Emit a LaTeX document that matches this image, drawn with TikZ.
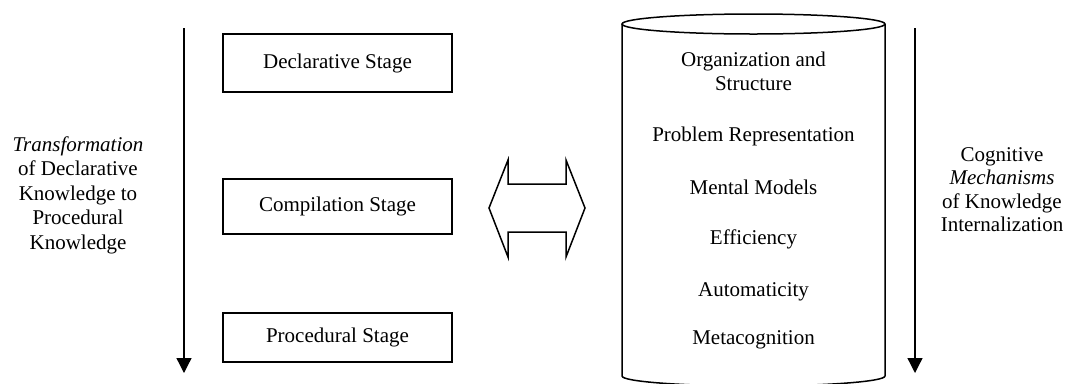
\documentclass[tikz,border=0pt]{standalone}
\usepackage{fontspec}
\setmainfont{Liberation Serif}
\usetikzlibrary{arrows.meta}
\begin{document}
\begin{tikzpicture}[x=1bp,y=-1bp,
  every node/.style={font=\fontsize{21bp}{24.5bp}\selectfont, inner sep=0pt},
  stagebox/.style={draw, line width=1.5bp, minimum width=229bp},
  flow/.style={line width=1.3bp, -{Triangle[length=15bp,width=15bp]}},
  shape line/.style={line width=1.5bp, line join=miter}]
\useasboundingbox (0,0) rectangle (1068,383);
\begin{scope}
\clip (0,0) rectangle (1068,383);
% left arrow
\coordinate (la1) at (184,28);
\coordinate (la2) at (184,373);
\draw[flow] (la1) -- (la2);
\node[align=center] (ltxt) at (78,195) {\textit{Transformation}\\of Declarative\\Knowledge to\\Procedural\\Knowledge};
% stage boxes
\node[stagebox, minimum height=58bp] (decl) at (337.5,63) {Declarative Stage};
\node[stagebox, minimum height=55bp] (comp) at (337.5,206.5) {Compilation Stage};
\node[stagebox, minimum height=49bp] (proc) at (337.5,337.5) {Procedural Stage};
% double arrow
\coordinate (dl) at (489,208);
\coordinate (dr) at (585,208);
\draw[shape line] (dl) -- (508,160) -- (508,184) -- (566,184) -- (566,160) -- (dr)
  -- (566,257) -- (566,232) -- (508,232) -- (508,257) -- cycle;
% cylinder
\coordinate (ctl) at (622,24);
\coordinate (ctr) at (885,24);
\coordinate (cbl) at (622,376);
\coordinate (cbr) at (885,376);
\draw[shape line] (753.5,24) ellipse [x radius=131.5, y radius=10];
\draw[shape line] (ctl) -- (cbl) arc[start angle=180, end angle=360, x radius=131.5, y radius=-10] -- (ctr);
\node[align=center, font=\fontsize{21bp}{23.3bp}\selectfont] (c1) at (753.5,71.2) {Organization and\\Structure};
\node[anchor=base] (c2) at (753.5,141.7) {Problem Representation};
\node[anchor=base] (c3) at (753.5,194) {Mental Models};
\node[anchor=base] (c4) at (753.5,244) {Efficiency};
\node[anchor=base] (c5) at (753.5,296) {Automaticity};
\node[anchor=base] (c6) at (753.5,344) {Metacognition};
% right arrow
\coordinate (ra1) at (915,28);
\coordinate (ra2) at (915,373);
\draw[flow] (ra1) -- (ra2);
\node[align=center, font=\fontsize{21bp}{23.3bp}\selectfont] (rtxt) at (1002,189.5) {Cognitive\\\textit{Mechanisms}\\of Knowledge\\Internalization};
\end{scope}
\end{tikzpicture}
\end{document}
